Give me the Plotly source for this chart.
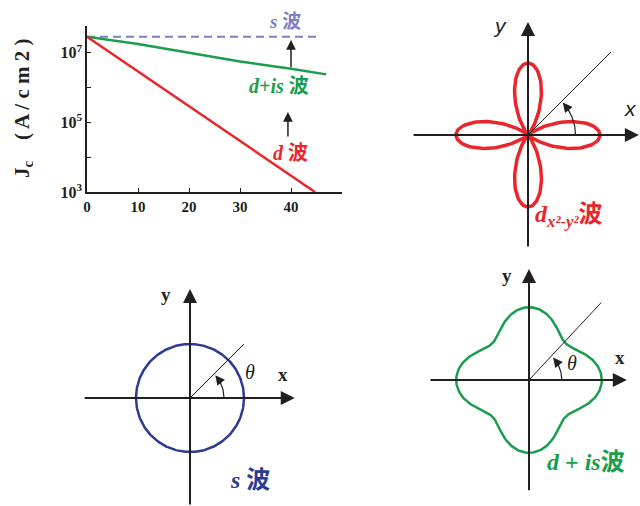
import numpy as np
import plotly.graph_objects as go

W, H = 640, 506

# ---------------- data: top-left Jc vs thickness ----------------
thickness_s = [0, 45.3]
jc_s = [2.9e7, 2.9e7]
thickness_dis = [0, 10, 20, 30, 40, 46.9]
jc_dis = [2.9e7, 1.8e7, 1.0e7, 5.6e6, 3.5e6, 2.4e6]
thickness_d = [0, 44.7]
jc_d = [2.9e7, 1.0e3]
x_tickvals = [0, 10, 20, 30, 40]
x_ticktext = ["<b>0</b>", "<b>10</b>", "<b>20</b>", "<b>30</b>", "<b>40</b>"]
y_tickvals = [1e3, 1e4, 1e5, 1e6, 1e7]
y_ticktext = ["<b>10<sup>3</sup></b>", "", "<b>10<sup>5</sup></b>", "", "<b>10<sup>7</sup></b>"]

# ---------------- data: gap parameters for the polar sketches ----------------
theta_deg = np.arange(0, 361, 1)
s_gap = 1.0                      # isotropic s-wave
d_gap = 1.0                      # d_{x2-y2}
dis_d_gap, dis_s_gap = 0.70, 0.71  # d + is

RED = "#e8262b"
GREEN = "#1a9e4e"
BLUE = "#2b3a92"
LAV = "#7f7fc6"
BLACK = "#231f20"
SERIF = "Liberation Serif, Times New Roman, Noto Sans CJK SC, serif"

fig = go.Figure()

# ---------------- top-left chart ----------------
fig.add_trace(go.Scatter(x=thickness_s, y=jc_s, mode="lines",
                         line=dict(color=LAV, width=2, dash="8px,5px"),
                         xaxis="x", yaxis="y", showlegend=False))
fig.add_trace(go.Scatter(x=thickness_dis, y=jc_dis, mode="lines",
                         line=dict(color=GREEN, width=2.5),
                         xaxis="x", yaxis="y", showlegend=False))
fig.add_trace(go.Scatter(x=thickness_d, y=jc_d, mode="lines",
                         line=dict(color=RED, width=2.5),
                         xaxis="x", yaxis="y", showlegend=False))

annotations = []
annotations.append(dict(x=40, y=7.37, ax=40, ay=6.54, xref="x", yref="y",
                        axref="x", ayref="y", showarrow=True, arrowhead=2,
                        arrowsize=1.3, arrowwidth=1.5, arrowcolor=BLACK, text=""))
annotations.append(dict(x=39.4, y=5.3, ax=39.4, ay=4.55, xref="x", yref="y",
                        axref="x", ayref="y", showarrow=True, arrowhead=2,
                        arrowsize=1.3, arrowwidth=1.5, arrowcolor=BLACK, text=""))


def paper_label(px, py, text, color, size, angle=0):
    annotations.append(dict(x=px / W, y=1 - py / H, xref="paper", yref="paper",
                            xanchor="center", yanchor="middle", text=text, textangle=angle,
                            showarrow=False, font=dict(family=SERIF, size=size, color=color)))


paper_label(285, 22, "<b><i>s</i> 波</b>", LAV, 19)
paper_label(279, 86, "<b><i>d+is</i> 波</b>", GREEN, 20)
paper_label(290, 153, "<b><i>d</i> 波</b>", RED, 20)
paper_label(23, 108, "<b>J<sub>c</sub></b>    <b>( A / c m 2 )</b>", BLACK, 21, -90)

layout = dict(
    width=W, height=H, margin=dict(l=0, r=0, t=0, b=0, autoexpand=False),
    paper_bgcolor="white", plot_bgcolor="rgba(0,0,0,0)", showlegend=False,
    xaxis=dict(domain=[87 / W, 342 / W], range=[0, 50], showgrid=False, zeroline=False,
               showline=True, linecolor=BLACK, linewidth=1.5, ticks="inside", ticklen=4,
               tickcolor=BLACK, tickvals=x_tickvals, ticktext=x_ticktext, anchor="y",
               automargin=False,
               tickfont=dict(family=SERIF, size=15, color=BLACK)),
    yaxis=dict(domain=[1 - 192 / H, 1 - 26 / H], type="log", range=[3, 7.77],
               showgrid=False, zeroline=False, showline=True, linecolor=BLACK,
               linewidth=1.5, ticks="inside", ticklen=4, tickcolor=BLACK,
               tickvals=y_tickvals, ticktext=y_ticktext, anchor="x", automargin=False,
               tickfont=dict(family=SERIF, size=16, color=BLACK)),
)
fig.update_layout(**layout)


# ---------------- polar sketches ----------------
def panel(idx, box, origin, R):
    x0, y0, x1, y1 = box
    ox, oy = origin
    ax = dict(domain=[x0 / W, x1 / W], range=[(x0 - ox) / R, (x1 - ox) / R],
              visible=False, showgrid=False, zeroline=False, anchor=f"y{idx}",
              automargin=False)
    ay = dict(domain=[1 - y1 / H, 1 - y0 / H], range=[(oy - y1) / R, (oy - y0) / R],
              visible=False, showgrid=False, zeroline=False, anchor=f"x{idx}",
              automargin=False)
    fig.update_layout(**{f"xaxis{idx}": ax, f"yaxis{idx}": ay})
    return lambda px, py: ((px - ox) / R, (oy - py) / R)


def axes_arrows(idx, xl, xr, yb, yt):
    for (x, y, axv, ayv) in [(xr, 0, xl, 0), (0, yt, 0, yb)]:
        annotations.append(dict(x=x, y=y, ax=axv, ay=ayv, xref=f"x{idx}", yref=f"y{idx}",
                                axref=f"x{idx}", ayref=f"y{idx}", showarrow=True,
                                arrowhead=2, arrowsize=1.4, arrowwidth=2,
                                arrowcolor=BLACK, text=""))


def angle_marks(idx, line_len, line_deg, arc_r, arc_end_deg):
    a = np.deg2rad(line_deg)
    fig.add_trace(go.Scatter(x=[0, line_len * np.cos(a)], y=[0, line_len * np.sin(a)],
                             mode="lines", line=dict(color=BLACK, width=1),
                             xaxis=f"x{idx}", yaxis=f"y{idx}", showlegend=False, hoverinfo="skip"))
    t = np.deg2rad(np.arange(0, arc_end_deg - 5, 1))
    fig.add_trace(go.Scatter(x=arc_r * np.cos(t), y=arc_r * np.sin(t), mode="lines",
                             line=dict(color=BLACK, width=1.2),
                             xaxis=f"x{idx}", yaxis=f"y{idx}", showlegend=False, hoverinfo="skip"))
    t0, t1 = np.deg2rad(arc_end_deg - 8), np.deg2rad(arc_end_deg)
    annotations.append(dict(x=arc_r * np.cos(t1), y=arc_r * np.sin(t1),
                            ax=arc_r * np.cos(t0), ay=arc_r * np.sin(t0),
                            xref=f"x{idx}", yref=f"y{idx}", axref=f"x{idx}", ayref=f"y{idx}",
                            showarrow=True, arrowhead=2, arrowsize=1.6, arrowwidth=1.2,
                            arrowcolor=BLACK, text=""))


def label(idx, conv, px, py, text, size, color=BLACK, family=SERIF):
    x, y = conv(px, py)
    annotations.append(dict(x=x, y=y, xref=f"x{idx}", yref=f"y{idx}", text=text,
                            showarrow=False, font=dict(family=family, size=size, color=color)))


th = np.deg2rad(theta_deg)

# d-wave (top right)
c2 = panel(2, (400, 0, 640, 252), (528, 135), 72)
axes_arrows(2, -1.61, 1.54, -1.57, 1.57)
r_d = d_gap * np.abs(np.cos(2 * th)) ** 2.4
fig.add_trace(go.Scatter(x=r_d * np.cos(th), y=r_d * np.sin(th), mode="lines",
                         line=dict(color=RED, width=3.5), xaxis="x2", yaxis="y2",
                         showlegend=False))
angle_marks(2, 1.63, 45, 0.66, 43)
label(2, c2, 500, 25, "<i>y</i>", 21, family="Liberation Sans, Arial, sans-serif")
label(2, c2, 630, 108, "<i>x</i>", 21, family="Liberation Sans, Arial, sans-serif")
label(2, c2, 569, 216, "<b><i>d</i></b><sub><b><i>x²-y²</i></b></sub><b>波</b>", 24, RED)

# s-wave (bottom left)
c3 = panel(3, (60, 270, 340, 506), (190, 398), 54)
axes_arrows(3, -1.98, 1.94, -2.0, 2.02)
r_s = s_gap * np.ones_like(th)
fig.add_trace(go.Scatter(x=r_s * np.cos(th), y=r_s * np.sin(th), mode="lines",
                         line=dict(color=BLUE, width=2.5), xaxis="x3", yaxis="y3",
                         showlegend=False))
angle_marks(3, 1.41, 45, 0.63, 42)
label(3, c3, 166, 294, "<b>y</b>", 19)
label(3, c3, 283, 374, "<b>x</b>", 19)
label(3, c3, 250, 372, "<i>θ</i>", 20)
label(3, c3, 250, 480, "<b><i>s</i> 波</b>", 24, BLUE)

# d+is wave (bottom right)
c4 = panel(4, (410, 255, 640, 506), (529, 380), 73)
axes_arrows(4, -1.37, 1.34, -1.53, 1.52)
r_dis = np.sqrt((dis_d_gap * np.cos(2 * th)) ** 2 + dis_s_gap ** 2)
fig.add_trace(go.Scatter(x=r_dis * np.cos(th), y=r_dis * np.sin(th), mode="lines",
                         line=dict(color=GREEN, width=2.5), xaxis="x4", yaxis="y4",
                         showlegend=False))
angle_marks(4, 1.45, 47, 0.45, 43)
label(4, c4, 507, 275, "<b>y</b>", 19)
label(4, c4, 620, 357, "<b>x</b>", 19)
label(4, c4, 572, 363, "<i>θ</i>", 20)
label(4, c4, 586, 462, "<b><i>d</i> + <i>is</i>波</b>", 24, GREEN)

fig.update_layout(annotations=annotations)
fig.write_html("out.html", config={"displayModeBar": False},
               post_script="document.body.style.margin='0';")
